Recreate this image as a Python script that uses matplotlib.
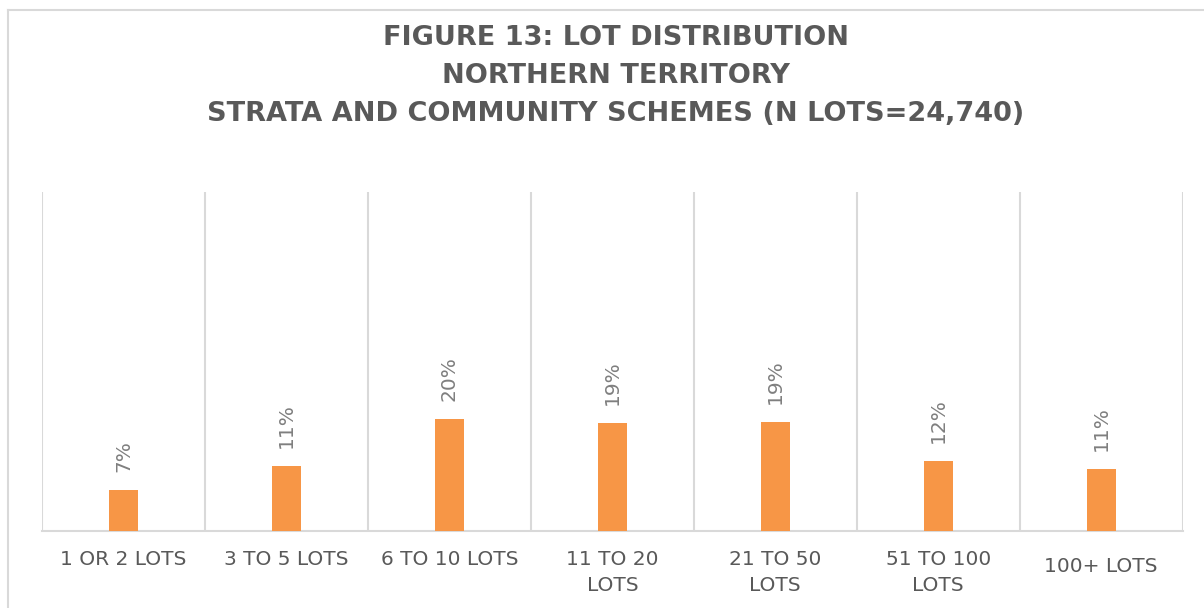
import matplotlib
matplotlib.use("Agg")
import matplotlib.pyplot as plt
import numpy as np
from matplotlib.lines import Line2D

categories = ["1 OR 2 LOTS", "3 TO 5 LOTS", "6 TO 10 LOTS", "11 TO 20\nLOTS",
              "21 TO 50\nLOTS", "51 TO 100\nLOTS", "100+ LOTS"]
values = [0.072, 0.114, 0.197, 0.190, 0.192, 0.124, 0.109]
title = "FIGURE 13: LOT DISTRIBUTION\nNORTHERN TERRITORY\nSTRATA AND COMMUNITY SCHEMES (N LOTS=24,740)"

W, H = 1204, 608
fig = plt.figure(figsize=(W / 100, H / 100), dpi=100)
fig.patch.set_facecolor("white")

# outer chart border (top and left visible)
fig.add_artist(Line2D([8 / W, 1.0], [1 - 10 / H, 1 - 10 / H], color="#d9d9d9", lw=1.5, transform=fig.transFigure))
fig.add_artist(Line2D([8 / W, 8 / W], [0, 1 - 10 / H], color="#d9d9d9", lw=1.5, transform=fig.transFigure))

ax = fig.add_axes([42 / W, (H - 530.7) / H, (1182.7 - 42) / W, (530.7 - 192) / H])
x = np.arange(len(categories))
bars = ax.bar(x, values, width=0.18, color="#F79646", zorder=3)

ax.set_xlim(-0.5, len(categories) - 0.5)
ax.set_ylim(0, 0.6)
ax.set_yticks([])
ax.set_xticks(np.arange(-0.5, len(categories)), minor=True)
ax.set_xticks(x)
ax.set_xticklabels([])
ax.tick_params(axis="x", which="both", length=0)
ax.grid(axis="x", which="minor", color="#d9d9d9", lw=1.5, zorder=0)
for s in ["left", "right", "top"]:
    ax.spines[s].set_visible(False)
ax.spines["bottom"].set_color("#d9d9d9")
ax.spines["bottom"].set_linewidth(1.5)

for xi, v in zip(x, values):
    ax.annotate(f"{v * 100:.0f}%", (xi, v), xytext=(0, 13), textcoords="offset points",
                rotation=90, ha="center", va="bottom", fontsize=14.5, color="#7f7f7f",
                family=["DejaVu Sans"])

for xi, lab in zip(x, categories):
    ax.annotate(lab, (xi, 0), xytext=(0, -14 if "100+" not in lab else -19), textcoords="offset points",
                ha="center", va="top", fontsize=14.5, color="#595959", linespacing=1.45,
                family=["DejaVu Sans"])

fig.text(616 / W, 1 - 25 / H, title, ha="center", va="top", fontsize=19.5, fontweight="bold",
         color="#595959", linespacing=1.6, family=["DejaVu Sans"])

fig.savefig("out.png", dpi=100)
